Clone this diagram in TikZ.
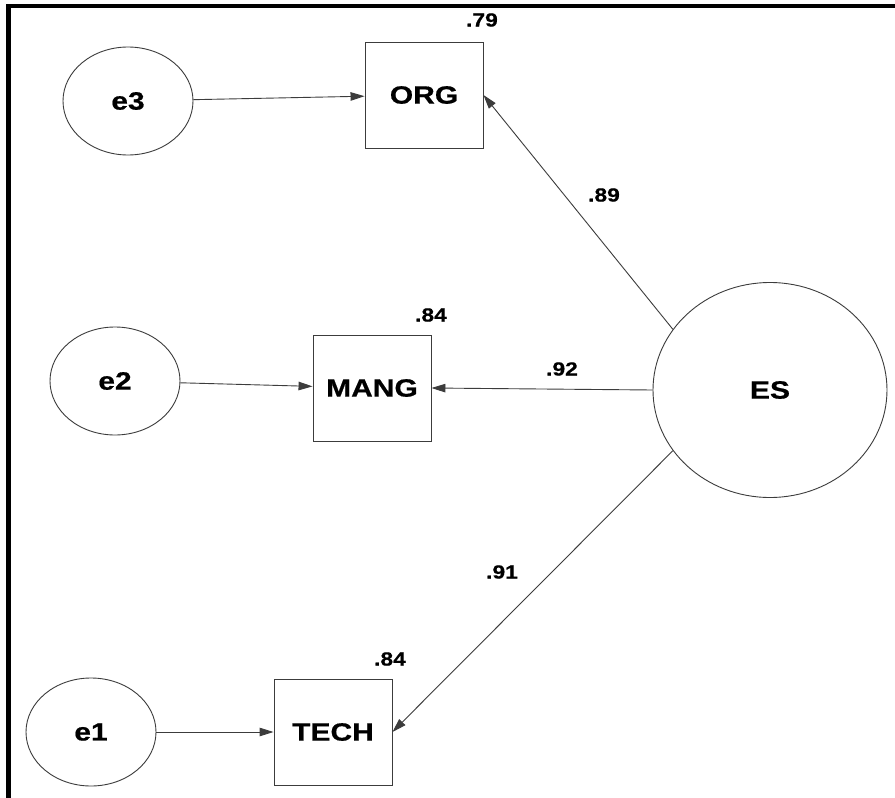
\documentclass[tikz,border=0pt]{standalone}
\usepackage{fontspec}
\newfontfamily\amosfont[FakeStretch=1.2,FakeBold=0.6]{Liberation Sans}
\usetikzlibrary{arrows.meta,positioning,shapes.geometric}
\definecolor{lineg}{RGB}{60,60,60}

\begin{document}
\begin{tikzpicture}[x=1pt, y=-1pt,
  errvar/.style={draw=lineg, line width=0.9pt, ellipse, inner sep=0pt, minimum width=130pt, minimum height=108pt, font=\amosfont\bfseries\fontsize{25}{27}\selectfont},
  latent/.style={draw=lineg, line width=0.9pt, ellipse, inner sep=0pt, minimum width=234pt, minimum height=215pt, font=\amosfont\bfseries\fontsize{25}{27}\selectfont},
  obsvar/.style={draw=lineg, line width=0.9pt, rectangle, inner sep=0pt, minimum width=118pt, minimum height=106pt, font=\amosfont\bfseries\fontsize{25}{27}\selectfont},
  coef/.style={inner sep=0pt, font=\amosfont\bfseries\fontsize{19}{21}\selectfont},
  path/.style={draw=lineg, line width=0.9pt, -{Triangle[length=14pt,width=8.5pt]}}]
\useasboundingbox (0,0) rectangle (895,798);
\fill[white] (0,0) rectangle (895,798);
% frame
\draw[line width=4.5pt, line cap=rect] (8.5,798) -- (8.5,6) -- (895,6);
% variables
\node[errvar] (e3) at (128,101) {e3};
\node[errvar] (e2) at (115,381) {e2};
\node[errvar] (e1) at (91,732) {e1};
\node[obsvar] (org) at (424,95) {ORG};
\node[obsvar] (mang) at (372,388) {MANG};
\node[obsvar] (tech) at (333,732) {TECH};
\node[latent] (es) at (770,390) {ES};
% paths
\draw[path] (e3) -- (org);
\draw[path] (e2) -- (mang);
\draw[path] (e1) -- (tech);
\draw[path] (es.148) -- (org.east);
\draw[path] (es.west) -- (mang.east);
\draw[path] (es.212) -- (tech.east);
% estimates
\node[coef] at (482,20) {.79};
\node[coef] at (431,315) {.84};
\node[coef] at (390,659) {.84};
\node[coef] at (604,195) {.89};
\node[coef] at (562,369) {.92};
\node[coef] at (502,572) {.91};
\end{tikzpicture}
\end{document}
